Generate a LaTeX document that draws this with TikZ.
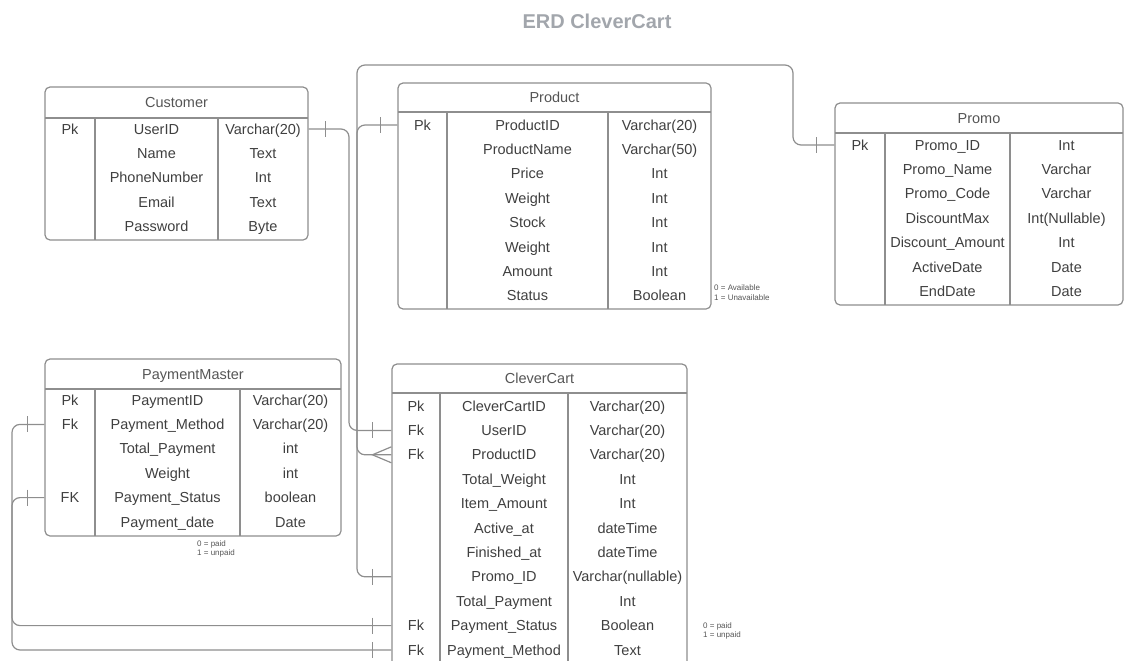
\documentclass[tikz,border=0pt]{standalone}
\usepackage{fontspec}
\setmainfont{Liberation Sans}
\usetikzlibrary{calc}

\definecolor{linegray}{HTML}{8E8E8E}
\definecolor{txtgray}{HTML}{3F3F3F}
\definecolor{headgray}{HTML}{555555}
\definecolor{titlegray}{HTML}{A2A6AC}

\tikzset{
  tbl/.style={draw=linegray, line width=1.2pt, rounded corners=5pt, rectangle, inner sep=0pt},
  tblrule/.style={draw=linegray, line width=1.2pt},
  link/.style={draw=linegray, line width=1.2pt, rounded corners=8pt},
  tblcell/.style={anchor=base, yshift=-5pt, inner sep=0pt, text=txtgray, font=\fontsize{14.5}{17}\selectfont},
  tblhead/.style={anchor=base, yshift=-5pt, inner sep=0pt, text=headgray, font=\fontsize{14.5}{17}\selectfont},
  tblnote/.style={align=left, anchor=north west, inner sep=0pt, text=headgray, font=\fontsize{8}{9.5}\selectfont},
  onebar/.pic={\draw[linegray, line width=1.2pt] (0,-8) -- (0,8);},
  crowfoot/.pic={\draw[linegray, line width=1.2pt] (0,-8) -- (-19,0) -- (0,8);}
}

\begin{document}
\begin{tikzpicture}[x=1pt, y=-1pt]
  \useasboundingbox (0,0) rectangle (1130,661);
  \clip (0,0) rectangle (1130,661);

  \node[font=\bfseries\fontsize{20}{24}\selectfont, text=titlegray] (title) at (597,21) {ERD CleverCart};

  % Customer
  \node[tbl, minimum width=263, minimum height=153] (cust) at (176.5,163.5) {};
  \draw[tblrule] (45,118) -- (308,118);
  \draw[tblrule] (95,118) -- (95,240) (218,118) -- (218,240);
  \node[tblhead] (cust-title) at (176.5,102.5) {Customer};
  \foreach \k/\n/\t [count=\i] in {Pk/UserID/Varchar(20), /Name/Text, /PhoneNumber/Int, /Email/Text, /Password/Byte}{
    \pgfmathsetmacro{\y}{129+24.4*(\i-1)}
    \coordinate (cust-r\i) at (0,\y);
    \node[tblcell] (cust-k\i) at (70,\y) {\k};
    \node[tblcell] (cust-n\i) at (156.5,\y) {\n};
    \node[tblcell] (cust-t\i) at (263,\y) {\t};
  }

  % Product
  \node[tbl, minimum width=313, minimum height=226] (prod) at (554.5,196) {};
  \draw[tblrule] (398,112) -- (711,112);
  \draw[tblrule] (447,112) -- (447,309) (608,112) -- (608,309);
  \node[tblhead] (prod-title) at (554.5,97.5) {Product};
  \foreach \k/\n/\t [count=\i] in {Pk/ProductID/Varchar(20), /ProductName/Varchar(50), /Price/Int, /Weight/Int, /Stock/Int, /Weight/Int, /Amount/Int, /Status/Boolean}{
    \pgfmathsetmacro{\y}{125+24.4*(\i-1)}
    \coordinate (prod-r\i) at (0,\y);
    \node[tblcell] (prod-k\i) at (422.5,\y) {\k};
    \node[tblcell] (prod-n\i) at (527.5,\y) {\n};
    \node[tblcell] (prod-t\i) at (659.5,\y) {\t};
  }
  \node[tblnote] (prod-note) at (714,285) {0 = Available\\1 = Unavailable};

  % Promo
  \node[tbl, minimum width=288, minimum height=202] (promo) at (979,204) {};
  \draw[tblrule] (835,133) -- (1123,133);
  \draw[tblrule] (885,133) -- (885,305) (1010,133) -- (1010,305);
  \node[tblhead] (promo-title) at (979,118) {Promo};
  \foreach \k/\n/\t [count=\i] in {Pk/Promo\_ID/Int, /Promo\_Name/Varchar, /Promo\_Code/Varchar, /DiscountMax/Int(Nullable), /Discount\_Amount/Int, /ActiveDate/Date, /EndDate/Date}{
    \pgfmathsetmacro{\y}{145+24.4*(\i-1)}
    \coordinate (promo-r\i) at (0,\y);
    \node[tblcell] (promo-k\i) at (860,\y) {\k};
    \node[tblcell] (promo-n\i) at (947.5,\y) {\n};
    \node[tblcell] (promo-t\i) at (1066.5,\y) {\t};
  }

  % PaymentMaster
  \node[tbl, minimum width=296, minimum height=177] (pay) at (193,447.5) {};
  \draw[tblrule] (45,389) -- (341,389);
  \draw[tblrule] (95,389) -- (95,536) (240,389) -- (240,536);
  \node[tblhead] (pay-title) at (193,374) {PaymentMaster};
  \foreach \k/\n/\t [count=\i] in {Pk/PaymentID/Varchar(20), Fk/Payment\_Method/Varchar(20), /Total\_Payment/int, /Weight/int, FK/Payment\_Status/boolean, /Payment\_date/Date}{
    \pgfmathsetmacro{\y}{400+24.4*(\i-1)}
    \coordinate (pay-r\i) at (0,\y);
    \node[tblcell] (pay-k\i) at (70,\y) {\k};
    \node[tblcell] (pay-n\i) at (167.5,\y) {\n};
    \node[tblcell] (pay-t\i) at (290.5,\y) {\t};
  }
  \node[tblnote] (pay-note) at (197,540) {0 = paid\\1 = unpaid};

  % CleverCart
  \node[tbl, minimum width=295, minimum height=308] (cart) at (539.5,518) {};
  \draw[tblrule] (392,393) -- (687,393);
  \draw[tblrule] (440,393) -- (440,672) (568,393) -- (568,672);
  \node[tblhead] (cart-title) at (539.5,378.5) {CleverCart};
  \foreach \k/\n/\t [count=\i] in {Pk/CleverCartID/Varchar(20), Fk/UserID/Varchar(20), Fk/ProductID/Varchar(20), /Total\_Weight/Int, /Item\_Amount/Int, /Active\_at/dateTime, /Finished\_at/dateTime, /Promo\_ID/Varchar(nullable), /Total\_Payment/Int, Fk/Payment\_Status/Boolean, Fk/Payment\_Method/Text}{
    \pgfmathsetmacro{\y}{406+24.4*(\i-1)}
    \coordinate (cart-r\i) at (0,\y);
    \node[tblcell] (cart-k\i) at (416,\y) {\k};
    \node[tblcell] (cart-n\i) at (504,\y) {\n};
    \node[tblcell] (cart-t\i) at (627.5,\y) {\t};
  }
  \node[tblnote] (cart-note) at (703,622) {0 = paid\\1 = unpaid};

  % relations
  \coordinate (busU) at (349,0);
  \coordinate (busP) at (357,0);
  \coordinate (busL) at (12,0);
  \coordinate (topR) at (793,65);

  \draw[link] (cust.east |- cust-r1) -| (busU |- cart-r2) -- (cart.west |- cart-r2);
  \draw[link] (prod.west |- prod-r1) -| (busP |- cart-r3) -- (cart.west |- cart-r3);
  \draw[link] (promo.west |- promo-r1) -| (topR) -| (busP |- cart-r8) -- (cart.west |- cart-r8);
  \draw[link] (pay.west |- pay-r2) -| (busL |- cart-r11) -- (cart.west |- cart-r11);
  \draw[link] (pay.west |- pay-r5) -| (busL |- cart-r10) -- (cart.west |- cart-r10);

  \pic at ($(cust.east |- cust-r1)+(17,0)$) {onebar};
  \pic at ($(prod.west |- prod-r1)+(-17,0)$) {onebar};
  \pic at ($(promo.west |- promo-r1)+(-18,0)$) {onebar};
  \pic at ($(pay.west |- pay-r2)+(-17,0)$) {onebar};
  \pic at ($(pay.west |- pay-r5)+(-17,0)$) {onebar};
  \foreach \r in {2,8,10,11}
    \pic at ($(cart.west |- cart-r\r)+(-19,0)$) {onebar};
  \pic at (cart.west |- cart-r3) {crowfoot};
\end{tikzpicture}
\end{document}
